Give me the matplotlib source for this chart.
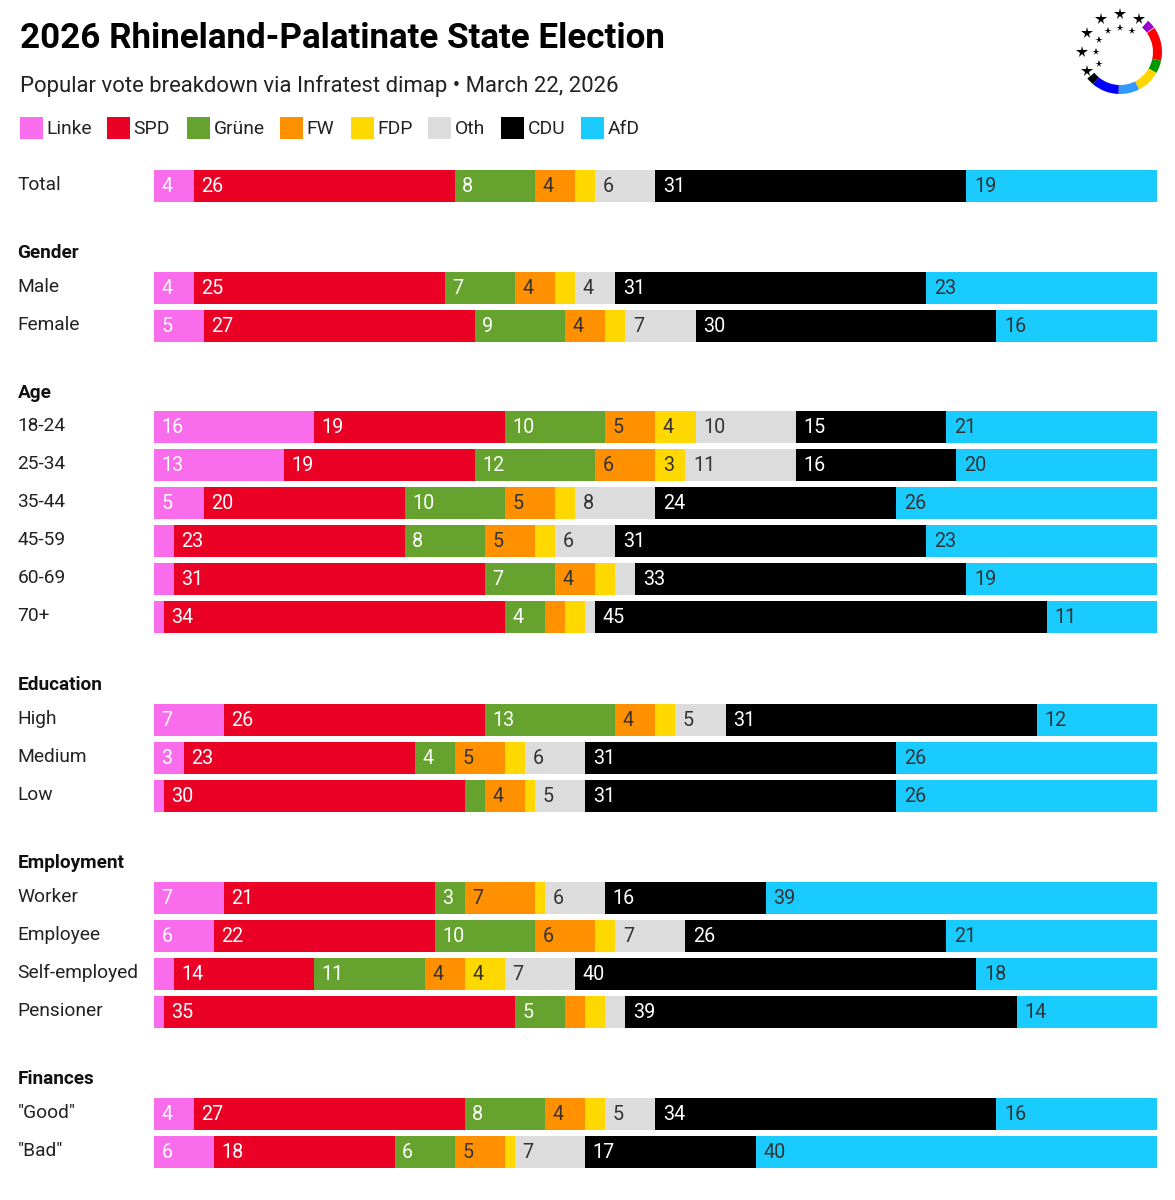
import numpy as np
import matplotlib
matplotlib.use("Agg")
import matplotlib.pyplot as plt
from matplotlib.patches import Wedge

plt.rcParams['font.family'] = ['Roboto', 'DejaVu Sans']

W, H = 1175, 1200

parties = ["Linke", "SPD", "Grüne", "FW", "FDP", "Oth", "CDU", "AfD"]
colors = ["#F96CEB", "#EB0025", "#66A32E", "#FF9100", "#FFD800", "#DCDCDC", "#000000", "#19CBFF"]
text_colors = ["white", "white", "white", "#333333", "#333333", "#333333", "white", "#333333"]

total = [4, 26, 8, 4, 2, 6, 31, 19]
gender_labels = ["Male", "Female"]
gender = [[4, 25, 7, 4, 2, 4, 31, 23],
          [5, 27, 9, 4, 2, 7, 30, 16]]
age_labels = ["18-24", "25-34", "35-44", "45-59", "60-69", "70+"]
age = [[16, 19, 10, 5, 4, 10, 15, 21],
       [13, 19, 12, 6, 3, 11, 16, 20],
       [5, 20, 10, 5, 2, 8, 24, 26],
       [2, 23, 8, 5, 2, 6, 31, 23],
       [2, 31, 7, 4, 2, 2, 33, 19],
       [1, 34, 4, 2, 2, 1, 45, 11]]
edu_labels = ["High", "Medium", "Low"]
edu = [[7, 26, 13, 4, 2, 5, 31, 12],
       [3, 23, 4, 5, 2, 6, 31, 26],
       [1, 30, 2, 4, 1, 5, 31, 26]]
emp_labels = ["Worker", "Employee", "Self-employed", "Pensioner"]
emp = [[7, 21, 3, 7, 1, 6, 16, 39],
       [6, 22, 10, 6, 2, 7, 26, 21],
       [2, 14, 11, 4, 4, 7, 40, 18],
       [1, 35, 5, 2, 2, 2, 39, 14]]
fin_labels = ['"Good"', '"Bad"']
fin = [[4, 27, 8, 4, 2, 5, 34, 16],
       [6, 18, 6, 5, 1, 7, 17, 40]]

# heading, row labels, values, bar centre of first row in pixels
groups = [(None, ["Total"], [total], 186),
          ("Gender", gender_labels, gender, 287.5),
          ("Age", age_labels, age, 427.3),
          ("Education", edu_labels, edu, 719.5),
          ("Employment", emp_labels, emp, 897.5),
          ("Finances", fin_labels, fin, 1113.5)]

fig = plt.figure(figsize=(W / 100, H / 100), dpi=100)

# background axes in pixel coordinates for the text
bg = fig.add_axes([0, 0, 1, 1])
bg.set_xlim(0, W)
bg.set_ylim(H, 0)
bg.axis("off")

bg.text(20, 38, "2026 Rhineland-Palatinate State Election", fontsize=25.2,
        fontweight="bold", color="black", va="center")
bg.text(20, 86, "Popular vote breakdown via Infratest dimap • March 22, 2026",
        fontsize=15.97, color="#222222", va="center")

# legend
legend_x = [20, 107, 187, 280, 351, 428, 501, 581]
for name, col, lx in zip(parties, colors, legend_x):
    bg.add_patch(plt.Rectangle((lx, 117), 22.5, 22, color=col, lw=0))
    bg.text(lx + 26.5, 129, name, fontsize=13.9, color="#222222", va="center")

# bars
ax = fig.add_axes([153.8 / W, 0, 1003.2 / W, 1])
ax.set_xlim(0, 100)
ax.set_ylim(H, 0)
ax.axis("off")
ax.patch.set_alpha(0)

for heading, labels, rows, y0 in groups:
    if heading:
        bg.text(17.5, y0 - 34.5, heading, fontsize=13.7, fontweight="bold", color="#111111", va="center")
    for i, (lab, vals) in enumerate(zip(labels, rows)):
        y = y0 + 38 * i
        bg.text(17.5, y - 1, lab, fontsize=13.8, color="#222222", va="center")
        left = 0
        for v, col, tc in zip(vals, colors, text_colors):
            ax.barh(y, v, left=left, height=32, color=col, linewidth=0)
            if v >= 3:
                ax.text(left + 0.75, y + 0.5, str(v), color=tc, fontsize=14.2, va="center", ha="left")
            left += v

# logo: ring of party colours and stars
logo = fig.add_axes([1070 / W, 1 - 100 / H, 100 / W, 100 / H])
logo.set_xlim(1070, 1170)
logo.set_ylim(100, 0)
logo.set_aspect("equal")
logo.axis("off")
ring = [(-48, -36, "#9900CC"), (-35, 12, "#FF0000"), (12, 30, "#009900"),
        (30, 63, "#FFD500"), (63, 92, "#3399FF"), (92, 130, "#0000FF"), (130, 141, "#000000")]
cx, cy, r = 1120, 52, 42
for a0, a1, col in ring:
    logo.add_patch(Wedge((cx, cy), r, a0, a1, width=9, color=col, lw=0))
star_angles = [-60, -90, -120, -150, 180, 150]
for a in star_angles:
    logo.plot(cx + 38 * np.cos(np.radians(a)), cy + 38 * np.sin(np.radians(a)), marker="*",
              color="black", ms=8.5, mew=0)
    logo.plot(cx + 24 * np.cos(np.radians(a)), cy + 24 * np.sin(np.radians(a)), marker="*",
              color="black", ms=5.5, mew=0)

fig.savefig("out.png", dpi=100, facecolor="white")
